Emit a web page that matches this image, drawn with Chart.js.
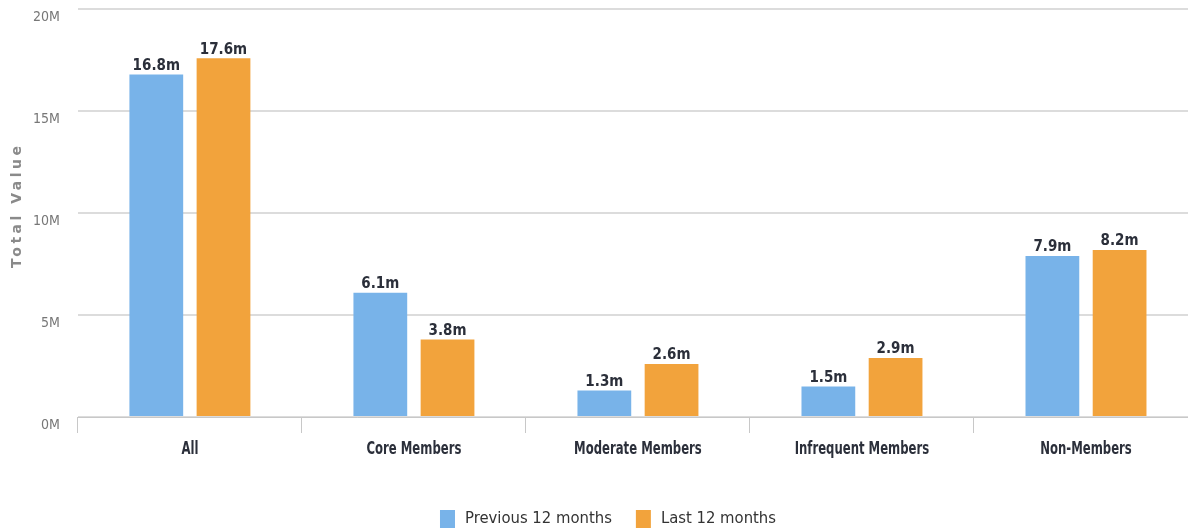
<!DOCTYPE html>
<html>
<head>
<meta charset="utf-8">
<script src="https://cdn.jsdelivr.net/npm/chart.js@4/dist/chart.umd.min.js"></script>
<style>
  html, body { margin: 0; padding: 0; background: #fff; overflow: hidden; }
  #wrap { position: relative; width: 1198px; height: 549px; margin-top: -17px; }
</style>
</head>
<body>
<div id="wrap"><canvas id="memberChart"></canvas></div>
<script>
const categories = ['All', 'Core Members', 'Moderate Members', 'Infrequent Members', 'Non-Members'];
const seriesNames = ['Previous 12 months', 'Last 12 months'];
const previous12 = [16.8, 6.1, 1.3, 1.5, 7.9];
const last12 = [17.6, 3.8, 2.6, 2.9, 8.2];
const seriesColors = ['#78b3e9', '#f2a33c'];
const yTicks = [0, 5, 10, 15, 20];
const yTitle = 'Total Value';

const narrow = '"DejaVu Sans Condensed", "Liberation Sans", sans-serif';

// labels like "16.8m" above each bar, squeezed category names, axis title and legend
const extraText = {
  id: 'extraText',
  afterDatasetsDraw(chart) {
    const ctx = chart.ctx;
    ctx.save();
    ctx.font = 'bold 15px ' + narrow;
    ctx.fillStyle = '#2b2f3a';
    ctx.textAlign = 'center';
    ctx.textBaseline = 'bottom';
    chart.data.datasets.forEach((ds, i) => {
      chart.getDatasetMeta(i).data.forEach((bar, j) => {
        ctx.fillText(ds.data[j].toFixed(1) + 'm', bar.x, bar.y - 1);
      });
    });
    ctx.restore();
  },
  afterDraw(chart) {
    const ctx = chart.ctx;
    const xs = chart.scales.x;
    const area = chart.chartArea;

    ctx.save();
    ctx.font = 'bold 18px ' + narrow;
    ctx.fillStyle = '#2b2f3a';
    ctx.textAlign = 'center';
    ctx.textBaseline = 'middle';
    categories.forEach((c, i) => {
      ctx.save();
      ctx.translate(xs.getPixelForTick(i), area.bottom + 32);
      ctx.scale(0.72, 1);
      ctx.fillText(c, 0, 0);
      ctx.restore();
    });
    ctx.restore();

    ctx.save();
    ctx.translate(17, (area.top + area.bottom) / 2 - 8);
    ctx.rotate(-Math.PI / 2);
    ctx.font = 'bold 14px "DejaVu Sans", sans-serif';
    ctx.letterSpacing = '3.5px';
    ctx.fillStyle = '#8a8a8a';
    ctx.textAlign = 'center';
    ctx.textBaseline = 'middle';
    ctx.fillText(yTitle, 0, 0);
    ctx.restore();

    // legend
    ctx.save();
    ctx.font = '16.5px ' + narrow;
    ctx.textBaseline = 'middle';
    ctx.textAlign = 'left';
    const legendY = area.bottom + 102;
    const widths = seriesNames.map(n => ctx.measureText(n).width);
    const itemW = widths.map(w => 15 + 10 + w);
    const gap = 24;
    let x = 608 - (itemW[0] + itemW[1] + gap) / 2;
    seriesNames.forEach((n, i) => {
      ctx.fillStyle = seriesColors[i];
      ctx.fillRect(x, legendY - 9, 15, 18);
      ctx.fillStyle = '#333';
      ctx.fillText(n, x + 25, legendY);
      x += itemW[i] + gap;
    });
    ctx.restore();
  }
};

const ctx = document.getElementById('memberChart').getContext('2d');
new Chart(ctx, {
  type: 'bar',
  data: {
    labels: categories,
    datasets: [
      { label: seriesNames[0], data: previous12, backgroundColor: seriesColors[0] },
      { label: seriesNames[1], data: last12, backgroundColor: seriesColors[1] }
    ]
  },
  options: {
    responsive: true,
    maintainAspectRatio: false,
    animation: false,
    categoryPercentage: 0.6,
    barPercentage: 0.8,
    layout: { padding: { top: 8, right: 0, bottom: 67, left: 15 } },
    plugins: {
      tooltip: { enabled: false },
      legend: { display: false }
    },
    scales: {
      x: {
        border: { display: true, color: '#c8c8c8', width: 1 },
        grid: { display: true, drawOnChartArea: false, drawTicks: true, tickLength: 16, color: '#c8c8c8' },
        ticks: { color: 'transparent', padding: 7, font: { family: narrow, size: 15, weight: 'bold' } }
      },
      y: {
        min: 0,
        max: 20,
        afterBuildTicks(axis) { axis.ticks = yTicks.map(v => ({ value: v })); },
        border: { display: false },
        grid: { color: '#dcdcdc', lineWidth: 2, drawTicks: false },
        ticks: {
          color: '#777',
          padding: 18,
          labelOffset: 8,
          font: { family: narrow, size: 14 },
          callback: v => v + 'M'
        }
      }
    }
  },
  plugins: [extraText]
});
</script>
</body>
</html>
